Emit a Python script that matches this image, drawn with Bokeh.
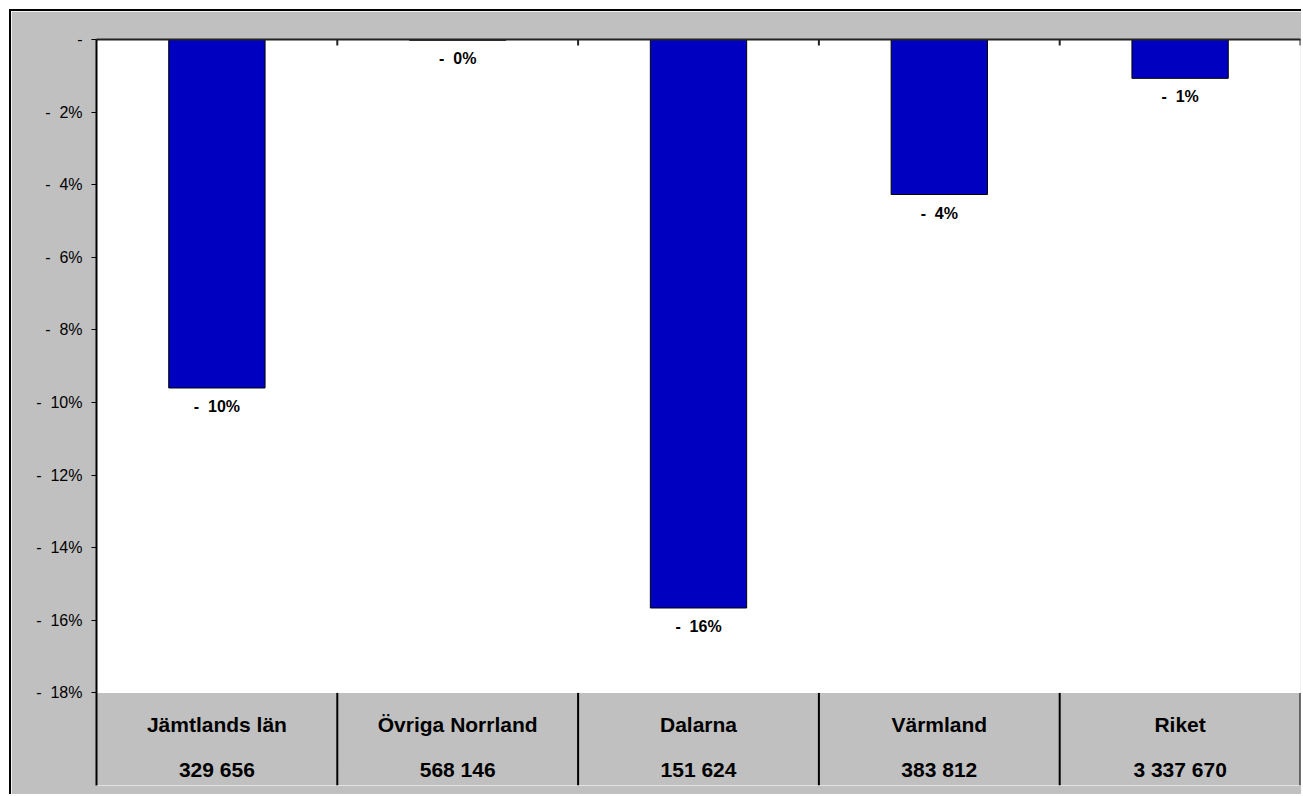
import math
from bokeh.plotting import figure
from bokeh.models import Range1d, FixedTicker, ColumnDataSource
from bokeh.core.properties import value
from bokeh.embed import file_html
from bokeh.resources import INLINE

# ---- data ----
regions = ["Jämtlands län", "Övriga Norrland", "Dalarna", "Värmland", "Riket"]
populations = ["329 656", "568 146", "151 624", "383 812", "3 337 670"]
change_pct = [-9.6, -0.02, -15.66, -4.27, -1.07]
y_ticks = [0, -2, -4, -6, -8, -10, -12, -14, -16, -18]

NB = "\u00a0"
FONT = "Liberation Sans"
BAR = "#0000C0"
GRAY = "#C0C0C0"

centers = [i + 0.5 for i in range(len(regions))]
bounds = [i + 1 for i in range(len(regions))]
bar_labels = [f"-{NB}{NB}{abs(round(v))}%" for v in change_pct]
tick_labels = {t: ("-" if t == 0 else f"-{NB}{NB}{abs(t)}%") for t in y_ticks}

axis_min = -18
y_low = -20.55

src = ColumnDataSource(dict(x=centers, v=change_pct, lab=bar_labels,
                            reg=regions, pop=populations))

p = figure(width=1292, height=785,
           x_range=Range1d(0, len(regions)), y_range=Range1d(y_low, 0),
           output_backend="svg", toolbar_location=None,
           x_axis_location="above",
           min_border_left=85, min_border_right=3,
           min_border_top=28, min_border_bottom=11)
p.styles = {"margin-left": "9px", "margin-top": "9px",
            "border-left": "2px solid black", "border-top": "2px solid black"}

p.background_fill_color = "white"
p.border_fill_color = GRAY
p.outline_line_color = None
p.grid.visible = False

# top category axis line (crosses at 0)
p.xaxis.ticker = FixedTicker(ticks=[])
p.xaxis.minor_tick_line_color = None
p.xaxis.major_tick_line_color = None
p.xaxis.axis_line_width = 2
p.xaxis.axis_line_color = "#222222"

# left value axis
p.yaxis.ticker = FixedTicker(ticks=y_ticks)
p.yaxis.major_label_overrides = tick_labels
p.yaxis.major_tick_in = 0
p.yaxis.major_tick_out = 5
p.yaxis.minor_tick_line_color = None
p.yaxis.axis_line_width = 2
p.yaxis.axis_line_color = "black"
p.yaxis.major_tick_line_color = "black"
p.yaxis.major_label_standoff = 9
p.yaxis.major_label_text_font = FONT
p.yaxis.major_label_text_font_size = "16px"
p.yaxis.major_label_text_color = "black"

# gray category band below the -18% line
p.quad(left=0, right=len(regions), bottom=y_low, top=axis_min,
       fill_color=GRAY, line_color=None)
p.segment(x0=bounds, y0=[axis_min] * len(bounds), x1=bounds,
          y1=[y_low] * len(bounds), line_color="black", line_width=2)

# small category ticks hanging from the zero line (upper half clipped)
p.scatter(x=bounds, y=[0] * len(bounds), marker="dash", size=12,
          angle=math.pi / 2, line_color="#222222", line_width=2)

# bars
p.vbar(x="x", top=0, bottom="v", width=0.4, source=src,
       fill_color=BAR, line_color="black", line_width=1)

# data labels
p.text(x="x", y="v", text="lab", source=src, text_align="center",
       text_baseline="top", y_offset=10, text_font=value(FONT),
       text_font_style="bold", text_font_size="16px", text_color="black")

# category labels
p.text(x="x", y=axis_min, text="reg", source=src, text_align="center",
       text_baseline="alphabetic", y_offset=32, text_font=value(FONT),
       text_font_style="bold", text_font_size="21px", text_color="black")
p.text(x="x", y=axis_min, text="pop", source=src, text_align="center",
       text_baseline="alphabetic", y_offset=77, text_font=value(FONT),
       text_font_style="bold", text_font_size="21px", text_color="black")

open("out.html", "w").write(file_html(p, INLINE))
